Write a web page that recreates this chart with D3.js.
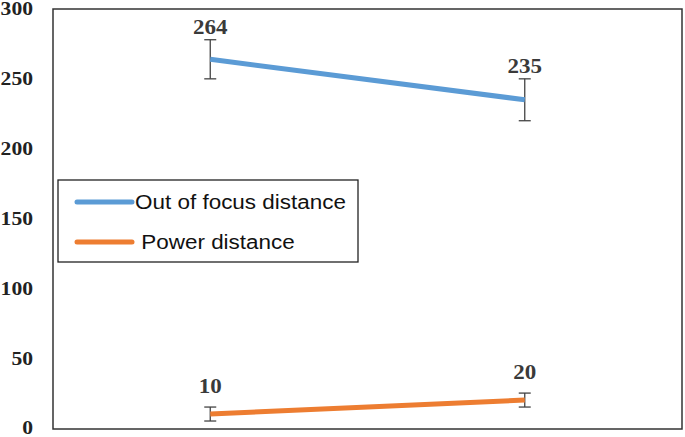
<!DOCTYPE html>
<html>
<head>
<meta charset="utf-8">
<script src="https://cdn.jsdelivr.net/npm/d3@7"></script>
<style>
  body { margin: 0; background: #fff; }
  svg { display: block; }
</style>
</head>
<body>
<svg id="chart"></svg>
<script>
const categories = ["A", "B"];
const outOfFocus = [264, 235];
const outOfFocusErr = [14, 15];
const power = [10, 20];
const powerErr = [5, 5];
const yTicks = [0, 50, 100, 150, 200, 250, 300];

const width = 685;
const height = 437;
const box = { left: 53, right: 682, top: 9, bottom: 429 };

const svg = d3.select("#chart").attr("width", width).attr("height", height);

const x = d3.scalePoint().domain(categories).range([box.left, box.right]).padding(0.5);
const y = d3.scaleLinear().domain([0, 300]).range([428, 9]);

// plot frame
svg.append("rect")
  .attr("x", box.left)
  .attr("y", box.top)
  .attr("width", box.right - box.left)
  .attr("height", box.bottom - box.top)
  .attr("fill", "none")
  .attr("stroke", "#333")
  .attr("stroke-width", 1.5);

// y tick labels
svg.append("g")
  .selectAll("text")
  .data(yTicks)
  .join("text")
  .attr("transform", (d) => `translate(33,${y(d)}) scale(1.2,1)`)
  .attr("text-anchor", "end")
  .attr("dominant-baseline", "central")
  .style("font-family", "'Liberation Serif', 'Times New Roman', serif")
  .style("font-weight", "bold")
  .style("font-size", "18px")
  .style("fill", "#222")
  .text((d) => d);

const series = [
  { values: outOfFocus, err: outOfFocusErr, color: "#5B9BD5", gap: 6 },
  { values: power, err: powerErr, color: "#ED7D31", gap: 14 },
];

const line = d3.line()
  .x((d, i) => x(categories[i]))
  .y((d) => y(d));

series.forEach((s) => {
  const g = svg.append("g");

  // error bars
  const eb = g.selectAll(".err")
    .data(s.values)
    .join("g")
    .attr("class", "err")
    .attr("stroke", "#444")
    .attr("stroke-width", 1.3);
  eb.append("line")
    .attr("x1", (d, i) => x(categories[i]))
    .attr("x2", (d, i) => x(categories[i]))
    .attr("y1", (d, i) => y(d + s.err[i]))
    .attr("y2", (d, i) => y(d - s.err[i]));
  eb.append("line")
    .attr("x1", (d, i) => x(categories[i]) - 6)
    .attr("x2", (d, i) => x(categories[i]) + 6)
    .attr("y1", (d, i) => y(d + s.err[i]))
    .attr("y2", (d, i) => y(d + s.err[i]));
  eb.append("line")
    .attr("x1", (d, i) => x(categories[i]) - 6)
    .attr("x2", (d, i) => x(categories[i]) + 6)
    .attr("y1", (d, i) => y(d - s.err[i]))
    .attr("y2", (d, i) => y(d - s.err[i]));

  g.append("path")
    .datum(s.values)
    .attr("d", line)
    .attr("fill", "none")
    .attr("stroke", s.color)
    .attr("stroke-width", 5);

  // value labels
  g.selectAll(".val")
    .data(s.values)
    .join("text")
    .attr("class", "val")
    .attr("transform", (d, i) => `translate(${x(categories[i])},${y(d + s.err[i]) - s.gap}) scale(1.15,1)`)
    .attr("text-anchor", "middle")
    .style("font-family", "'Liberation Serif', 'Times New Roman', serif")
    .style("font-weight", "bold")
    .style("font-size", "20px")
    .style("fill", "#3a3a3a")
    .text((d) => d);
});

// legend
const legendNames = ["Out of focus distance", " Power distance"];
const legend = svg.append("g");
legend.append("rect")
  .attr("x", 58)
  .attr("y", 180)
  .attr("width", 300)
  .attr("height", 82)
  .attr("fill", "#fff")
  .attr("stroke", "#222")
  .attr("stroke-width", 1.3);

const items = legend.selectAll(".item")
  .data(legendNames)
  .join("g")
  .attr("class", "item")
  .attr("transform", (d, i) => `translate(77,${202 + i * 40})`);
items.append("line")
  .attr("x1", 0)
  .attr("x2", 55)
  .attr("stroke", (d, i) => series[i].color)
  .attr("stroke-width", 5)
  .attr("stroke-linecap", "round");
items.append("text")
  .attr("transform", "translate(58,0) scale(1.07,1)")
  .attr("dominant-baseline", "central")
  .style("font-family", "'Liberation Sans', Arial, sans-serif")
  .style("font-size", "21px")
  .style("fill", "#111")
  .style("white-space", "pre")
  .text((d) => d);
</script>
</body>
</html>
